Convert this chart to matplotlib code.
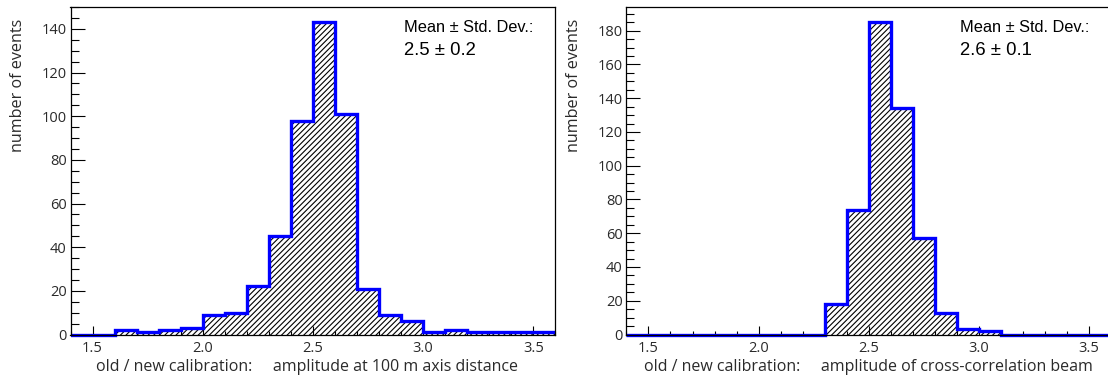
import numpy as np
import matplotlib
matplotlib.use("Agg")
import matplotlib.pyplot as plt
from matplotlib.ticker import MultipleLocator, FormatStrFormatter
from matplotlib.transforms import Bbox, TransformedBbox

# ---- data ----
bin_edges = [1.4, 1.5, 1.6, 1.7, 1.8, 1.9, 2.0, 2.1, 2.2, 2.3, 2.4, 2.5,
             2.6, 2.7, 2.8, 2.9, 3.0, 3.1, 3.2, 3.3, 3.4, 3.5, 3.6]
counts_100m = [0, 0, 2, 1, 2, 3, 9, 10, 22, 45, 98, 143,
               101, 21, 9, 6, 1, 2, 1, 1, 1, 1]
counts_beam = [0, 0, 0, 0, 0, 0, 0, 0, 0, 18, 74, 185,
               134, 57, 13, 3, 2, 0, 0, 0, 0, 0]
xlabels = ["old / new calibration:     amplitude at 100 m axis distance",
           "old / new calibration:     amplitude of cross-correlation beam"]
stats = ["2.5 \u00b1 0.2", "2.6 \u00b1 0.1"]
stat_title = "Mean \u00b1 Std. Dev.:"
ylabel = "number of events"

plt.rcParams['hatch.linewidth'] = 0.8
FONT = "Open Sans"
TXT = "#2a2a2a"

fig = plt.figure(figsize=(11.08, 3.81), dpi=100)
W, H = 1108.0, 381.0
ax_w = 484.8
ax_top, ax_bot = 6.7, 334.5
ax_h = ax_bot - ax_top
lefts = [70.5, 626.4]
label_x = [25.5, 17.6]

for i, (counts, xl, st) in enumerate(zip([counts_100m, counts_beam], xlabels, stats)):
    ax = fig.add_axes([lefts[i] / W, 1 - ax_bot / H, ax_w / W, ax_h / H])
    ax.stairs(counts, bin_edges, fill=True, facecolor="white", edgecolor="black",
              hatch="//////", linewidth=0, baseline=0)
    line = ax.stairs(counts, bin_edges, fill=False, color="#0000ff",
                     linewidth=2.4, baseline=None, zorder=3)
    line.set_clip_box(TransformedBbox(Bbox([[0, -0.05], [1, 1.0]]), ax.transAxes))
    ax.set_xlim(1.4, 3.6)
    ax.set_ylim(0, max(counts) * 1.05)
    ax.xaxis.set_major_locator(MultipleLocator(0.5))
    ax.xaxis.set_minor_locator(MultipleLocator(0.1))
    ax.yaxis.set_major_locator(MultipleLocator(20))
    ax.yaxis.set_minor_locator(MultipleLocator(5))
    ax.xaxis.set_major_formatter(FormatStrFormatter("%.1f"))
    ax.tick_params(axis="x", which="major", direction="in", length=6.5, width=0.8,
                   pad=4.5, labelsize=10.5, labelcolor=TXT, top=False)
    ax.tick_params(axis="x", which="minor", direction="in", length=3, width=0.8, top=False)
    ax.tick_params(axis="y", which="major", direction="in", length=10.3, width=0.8,
                   pad=2.7, labelsize=10.5, labelcolor=TXT, right=False)
    ax.tick_params(axis="y", which="minor", direction="in", length=5.5, width=0.8, right=False)
    for lab in ax.get_xticklabels() + ax.get_yticklabels():
        lab.set_fontfamily(FONT)
    for sp in ax.spines.values():
        sp.set_linewidth(0.9)
        sp.set_color("black")
        sp.set_zorder(4)

    ax.set_xlabel(xl, fontsize=11.5, family=FONT, color=TXT)
    ax.xaxis.label.set_ha("left")
    ax.xaxis.label.set_va("baseline")
    ax.xaxis.set_label_coords(label_x[i] / ax_w, (ax_bot - 371.0) / ax_h)

    ax.set_ylabel(ylabel, fontsize=11.6, family=FONT, color=TXT)
    ax.yaxis.label.set_rotation_mode("anchor")
    ax.yaxis.label.set_ha("right")
    ax.yaxis.label.set_va("center")
    ax.yaxis.set_label_coords(-52.2 / ax_w, (ax_bot - 18.3) / ax_h)

    ax.text(0.688, (ax_bot - 31.7) / ax_h, stat_title, transform=ax.transAxes,
            fontsize=11.8, family="Liberation Sans", ha="left", va="baseline")
    ax.text(0.688, (ax_bot - 55.0) / ax_h, st, transform=ax.transAxes,
            fontsize=13.3, family="Liberation Sans", ha="left", va="baseline")

fig.savefig("out.png", dpi=100)
